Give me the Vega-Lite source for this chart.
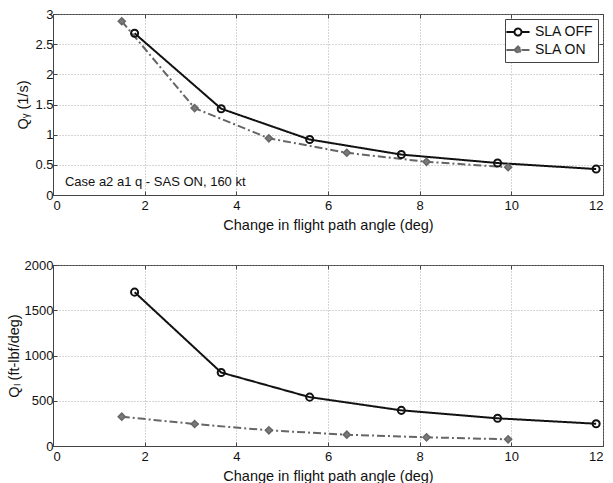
{
  "$schema": "https://vega.github.io/schema/vega-lite/v6.json",
  "padding": {"left": 5, "top": 7, "right": 0, "bottom": 0},
  "background": "white",
  "config": {
    "font": "Liberation Sans",
    "view": {"stroke": "#444", "strokeWidth": 1},
    "axis": {
      "labelFont": "Liberation Sans", "titleFont": "Liberation Sans",
      "labelFontSize": 13, "titleFontSize": 14.5, "titleFontWeight": "normal",
      "labelColor": "#111", "titleColor": "#111",
      "domainColor": "#444", "tickColor": "#444", "tickSize": -4,
      "gridColor": "#999", "gridDash": [1, 2], "gridOpacity": 0.8, "labelPadding": 4,
      "labelOverlap": false
    },
    "axisX": {"labelPadding": 8}
  },
  "datasets": {
    "top": [
      {"series": "SLA OFF", "x": 1.78, "y": 2.68},
      {"series": "SLA OFF", "x": 3.67, "y": 1.43},
      {"series": "SLA OFF", "x": 5.6, "y": 0.92},
      {"series": "SLA OFF", "x": 7.6, "y": 0.67},
      {"series": "SLA OFF", "x": 9.7, "y": 0.53},
      {"series": "SLA OFF", "x": 11.85, "y": 0.43},
      {"series": "SLA ON", "x": 1.5, "y": 2.88},
      {"series": "SLA ON", "x": 3.09, "y": 1.44},
      {"series": "SLA ON", "x": 4.71, "y": 0.94},
      {"series": "SLA ON", "x": 6.41, "y": 0.7},
      {"series": "SLA ON", "x": 8.15, "y": 0.55},
      {"series": "SLA ON", "x": 9.93, "y": 0.46}
    ],
    "bottom": [
      {"series": "SLA OFF", "x": 1.78, "y": 1700},
      {"series": "SLA OFF", "x": 3.67, "y": 812},
      {"series": "SLA OFF", "x": 5.6, "y": 540},
      {"series": "SLA OFF", "x": 7.6, "y": 394},
      {"series": "SLA OFF", "x": 9.7, "y": 306},
      {"series": "SLA OFF", "x": 11.85, "y": 246},
      {"series": "SLA ON", "x": 1.5, "y": 324},
      {"series": "SLA ON", "x": 3.09, "y": 243},
      {"series": "SLA ON", "x": 4.71, "y": 173},
      {"series": "SLA ON", "x": 6.41, "y": 125},
      {"series": "SLA ON", "x": 8.15, "y": 96},
      {"series": "SLA ON", "x": 9.93, "y": 74}
    ],
    "note": [{"x": 0.26, "y": 0.22, "label": "Case a2 a1 q - SAS ON, 160 kt"}]
  },
  "spacing": 26,
  "vconcat": [
    {
      "width": 550, "height": 181,
      "data": {"name": "top"},
      "resolve": {"axis": {"x": "independent", "y": "independent"}},
      "encoding": {
        "x": {"field": "x", "type": "quantitative", "scale": {"domain": [0, 12], "nice": false}, "axis": null},
        "y": {"field": "y", "type": "quantitative", "scale": {"domain": [0, 3], "nice": false}, "axis": null}
      },
      "layer": [
        {
          "mark": {"type": "line", "strokeWidth": 2},
          "encoding": {
            "x": {"field": "x", "type": "quantitative", "scale": {"domain": [0, 12], "nice": false},
                  "axis": {"values": [0, 2, 4, 6, 8, 10, 12], "title": "Change in flight path angle (deg)", "titlePadding": 6}},
            "y": {"field": "y", "type": "quantitative", "scale": {"domain": [0, 3], "nice": false},
                  "axis": {"values": [0, 0.5, 1, 1.5, 2, 2.5, 3], "format": "~g", "title": "Qᵧ (1/s)", "titlePadding": 4}},
            "color": {"field": "series", "type": "nominal",
                      "scale": {"domain": ["SLA OFF", "SLA ON"], "range": ["#111111", "#666666"]},
                      "legend": {
                        "title": null, "orient": "top-right", "offset": 5,
                        "strokeColor": "#444", "fillColor": "white", "padding": 4,
                        "labelFontSize": 14, "labelFont": "Liberation Sans", "labelColor": "#111",
                        "symbolSize": 240, "symbolStrokeWidth": 2, "rowPadding": 1, "labelOffset": 8,
                        "encode": {"symbols": {"update": {
                          "shape": {"signal": "datum.value === 'SLA OFF' ? 'M-1.5,0H-0.45M0.45,0H1.5M0.45,0A0.45,0.45,0,1,1,-0.45,0A0.45,0.45,0,1,1,0.45,0' : 'M-1.5,0H-0.45M0.45,0H1.5M-0.45,0L0,-0.45L0.45,0L0,0.45Z'"},
                          "fill": {"signal": "datum.value === 'SLA OFF' ? 'transparent' : '#777'"},
                          "fillOpacity": {"value": 1}
                        }}}
                      }},
            "strokeDash": {"field": "series", "type": "nominal",
                           "scale": {"domain": ["SLA OFF", "SLA ON"], "range": [[1, 0], [8, 3, 2, 3]]}, "legend": null}
          }
        },
        {
          "transform": [{"filter": "datum.series === 'SLA OFF'"}],
          "mark": {"type": "point", "shape": "circle", "strokeWidth": 2, "size": 50, "opacity": 1, "color": "#111111", "filled": false}
        },
        {
          "transform": [{"filter": "datum.series === 'SLA ON'"}],
          "mark": {"type": "point", "shape": "diamond", "strokeWidth": 1.5, "size": 50, "opacity": 1, "stroke": "#666666", "fill": "#7a7a7a", "filled": true}
        },
        {
          "data": {"name": "note"},
          "mark": {"type": "text", "align": "left", "baseline": "middle", "fontSize": 13, "font": "Liberation Sans", "color": "#111"},
          "encoding": {
            "text": {"field": "label"}
          }
        },
        {
          "mark": {"type": "point", "opacity": 0},
          "encoding": {
            "x": {"field": "x", "type": "quantitative", "scale": {"domain": [0, 12], "nice": false},
                  "axis": {"orient": "top", "values": [0, 2, 4, 6, 8, 10, 12], "labels": false, "title": null, "grid": false, "domain": false}},
            "y": {"field": "y", "type": "quantitative", "scale": {"domain": [0, 3], "nice": false},
                  "axis": {"orient": "right", "values": [0, 0.5, 1, 1.5, 2, 2.5, 3], "labels": false, "title": null, "grid": false, "domain": false}}
          }
        }
      ]
    },
    {
      "width": 550, "height": 181,
      "data": {"name": "bottom"},
      "resolve": {"axis": {"x": "independent", "y": "independent"}},
      "encoding": {
        "x": {"field": "x", "type": "quantitative", "scale": {"domain": [0, 12], "nice": false}, "axis": null},
        "y": {"field": "y", "type": "quantitative", "scale": {"domain": [0, 2000], "nice": false}, "axis": null}
      },
      "layer": [
        {
          "mark": {"type": "line", "strokeWidth": 2},
          "encoding": {
            "x": {"field": "x", "type": "quantitative", "scale": {"domain": [0, 12], "nice": false},
                  "axis": {"values": [0, 2, 4, 6, 8, 10, 12], "title": "Change in flight path angle (deg)", "titlePadding": 6}},
            "y": {"field": "y", "type": "quantitative", "scale": {"domain": [0, 2000], "nice": false},
                  "axis": {"values": [0, 500, 1000, 1500, 2000], "format": "d", "title": "Qₗ (ft-lbf/deg)", "titlePadding": 3}},
            "color": {"field": "series", "type": "nominal",
                      "scale": {"domain": ["SLA OFF", "SLA ON"], "range": ["#111111", "#666666"]}, "legend": null},
            "strokeDash": {"field": "series", "type": "nominal",
                           "scale": {"domain": ["SLA OFF", "SLA ON"], "range": [[1, 0], [8, 3, 2, 3]]}, "legend": null}
          }
        },
        {
          "transform": [{"filter": "datum.series === 'SLA OFF'"}],
          "mark": {"type": "point", "shape": "circle", "strokeWidth": 2, "size": 50, "opacity": 1, "color": "#111111", "filled": false}
        },
        {
          "transform": [{"filter": "datum.series === 'SLA ON'"}],
          "mark": {"type": "point", "shape": "diamond", "strokeWidth": 1.5, "size": 50, "opacity": 1, "stroke": "#666666", "fill": "#7a7a7a", "filled": true}
        },
        {
          "mark": {"type": "point", "opacity": 0},
          "encoding": {
            "x": {"field": "x", "type": "quantitative", "scale": {"domain": [0, 12], "nice": false},
                  "axis": {"orient": "top", "values": [0, 2, 4, 6, 8, 10, 12], "labels": false, "title": null, "grid": false, "domain": false}},
            "y": {"field": "y", "type": "quantitative", "scale": {"domain": [0, 2000], "nice": false},
                  "axis": {"orient": "right", "values": [0, 500, 1000, 1500, 2000], "labels": false, "title": null, "grid": false, "domain": false}}
          }
        }
      ]
    }
  ]
}
